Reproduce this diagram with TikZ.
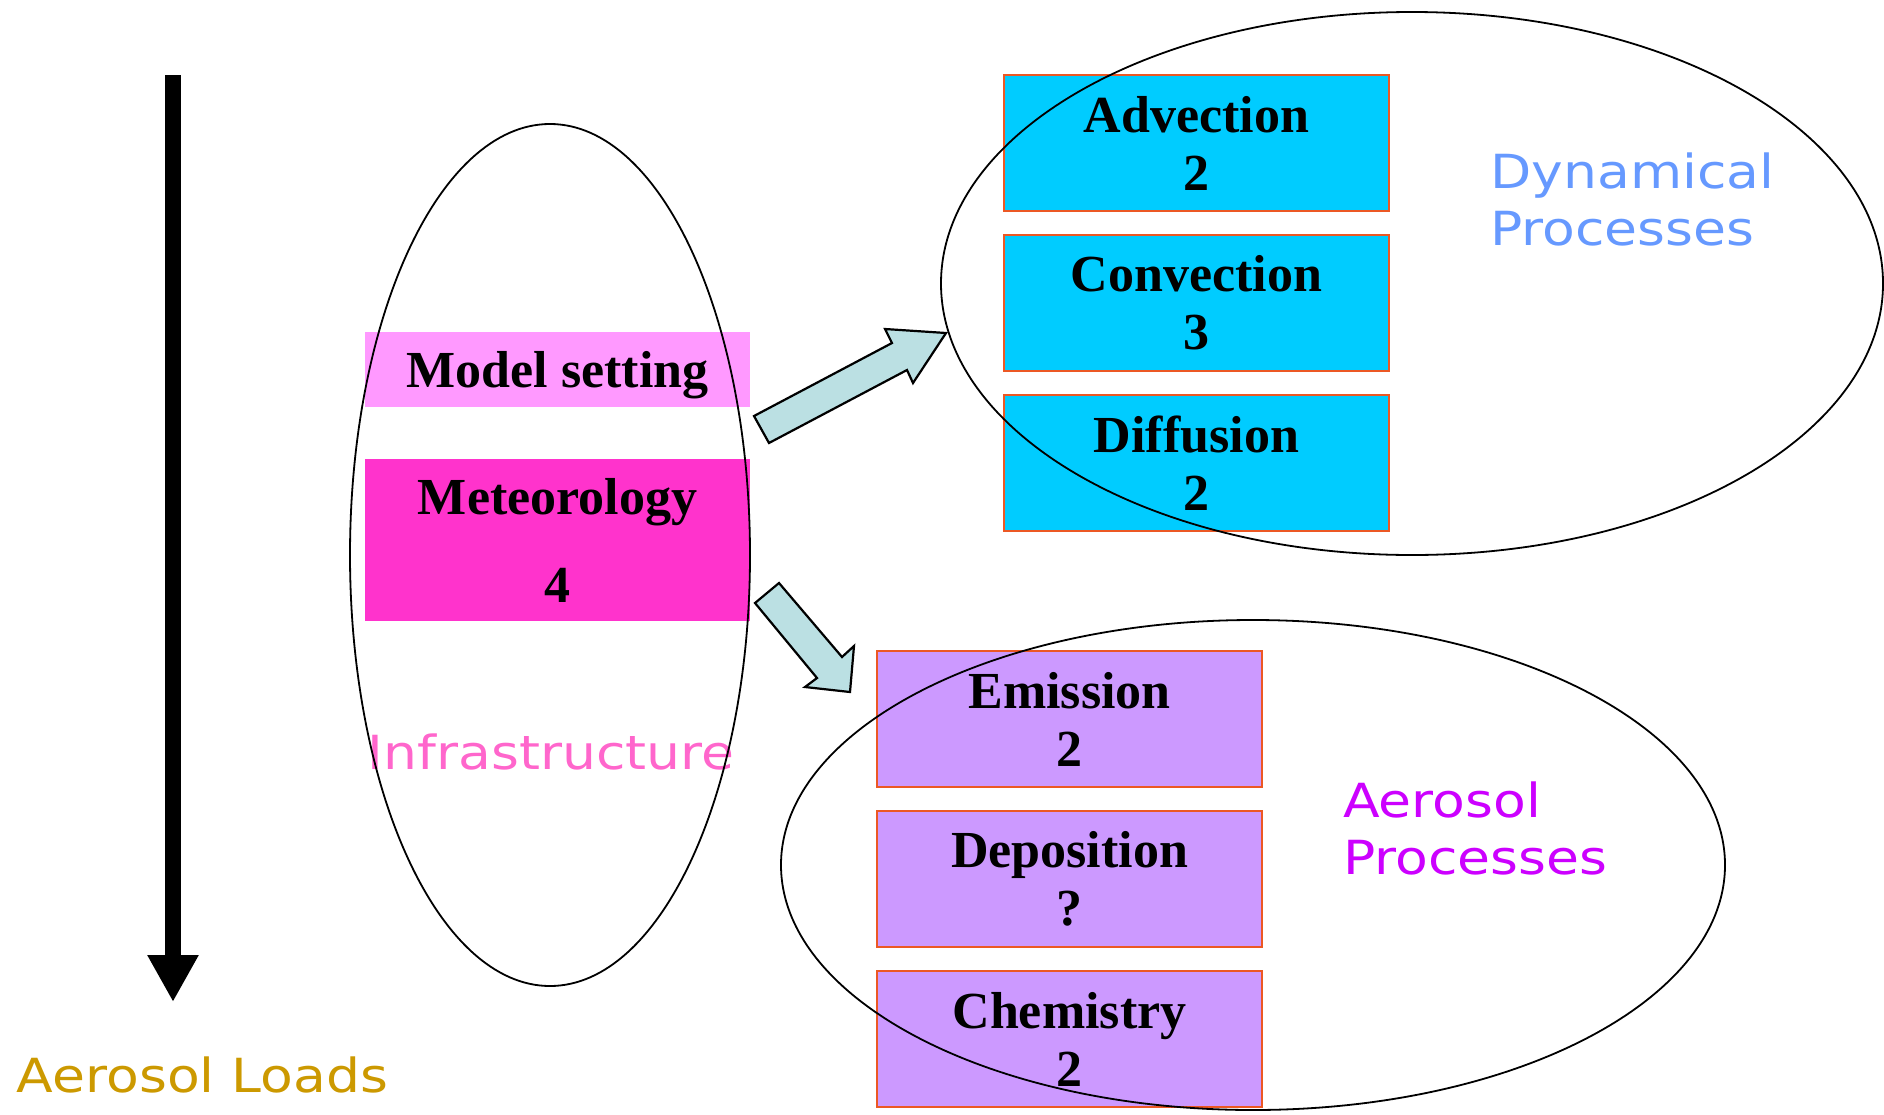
\documentclass[tikz,border=0pt]{standalone}
\usepackage{fontspec}
\setmainfont{Liberation Serif}
\newfontfamily\labelfont[FakeStretch=1.14]{DejaVu Sans}
\usetikzlibrary{positioning,shapes.geometric,arrows.meta}
\definecolor{dyncyan}{RGB}{0,204,255}
\definecolor{aerlilac}{RGB}{204,153,255}
\definecolor{setpink}{RGB}{255,153,255}
\definecolor{metpink}{RGB}{255,51,204}
\definecolor{boxedge}{RGB}{236,88,36}
\definecolor{arrowfill}{RGB}{187,224,227}
\definecolor{loadgold}{RGB}{204,153,0}
\definecolor{dynblue}{RGB}{102,153,255}
\definecolor{aermagenta}{RGB}{204,0,255}
\definecolor{infrapink}{RGB}{255,102,204}
\begin{document}
\begin{tikzpicture}[x=1pt,y=-1pt,
  procbox/.style={draw=boxedge,line width=2pt,minimum width=385,minimum height=136,inner sep=0pt,
    align=center,font=\fontsize{52}{58}\selectfont\bfseries},
  infrabox/.style={minimum width=385,inner sep=0pt,align=center,font=\fontsize{52}{58}\selectfont\bfseries},
  ring/.style={ellipse,draw,line width=1.8pt,inner sep=0pt},
  bigarrow/.style={draw,fill=arrowfill,line width=2.2pt,line join=miter},
  caption/.style={font=\labelfont\fontsize{47}{57}\selectfont,align=left,inner sep=0pt}]
\useasboundingbox (0,0) rectangle (1884,1114);

% left column: infrastructure
\node [infrabox,fill=setpink,minimum height=75,text depth=0pt] (setting) at (557.5,369.5) {Model setting};
\node [infrabox,fill=metpink,minimum height=162] (meteo) at (557.5,540) {Meteorology\\[30pt]4};
\node [caption,text=infrapink] (infra) at (551,752) {Infrastructure};

% dynamical processes
\node [procbox,fill=dyncyan] (advec) at (1196.5,143) {Advection\\2};
\node [procbox,fill=dyncyan,below=22pt of advec] (convec) {Convection\\3};
\node [procbox,fill=dyncyan,below=22pt of convec] (diffus) {Diffusion\\2};
\node [caption,text=dynblue,anchor=west] (dynlabel) at (1490,199) {Dynamical\\Processes};

% aerosol processes
\node [procbox,fill=aerlilac] (emiss) at (1069.5,719) {Emission\\2};
\node [procbox,fill=aerlilac,below=22pt of emiss] (depos) {Deposition\\?};
\node [procbox,fill=aerlilac,below=22pt of depos] (chem) {Chemistry\\2};
\node [caption,text=aermagenta,anchor=west] (aerlabel) at (1343,828) {Aerosol\\Processes};

% groups
\node [ring,minimum width=400,minimum height=862] (infraring) at (550,555) {};
\node [ring,minimum width=942,minimum height=543] (dynring) at (1412,283.5) {};
\node [ring,minimum width=944,minimum height=490] (aerring) at (1253,865) {};

% block arrows
\draw [bigarrow] (754,416) -- (892,343) -- (885,329) -- (946,333) -- (913,383) -- (907,370) -- (769,443) -- cycle;
\draw [bigarrow] (755,603) -- (779,583) -- (842,657) -- (854,646) -- (850,692) -- (805,687) -- (817,678) -- cycle;

% aerosol loads
\coordinate (loadtop) at (173,75);
\coordinate (loadend) at (173,1002);
\draw [line width=16pt,-{Triangle[length=47pt,width=48pt]}] (loadtop) -- (loadend);
\node [caption,text=loadgold] (loads) at (202.5,1075) {Aerosol Loads};
\end{tikzpicture}
\end{document}
